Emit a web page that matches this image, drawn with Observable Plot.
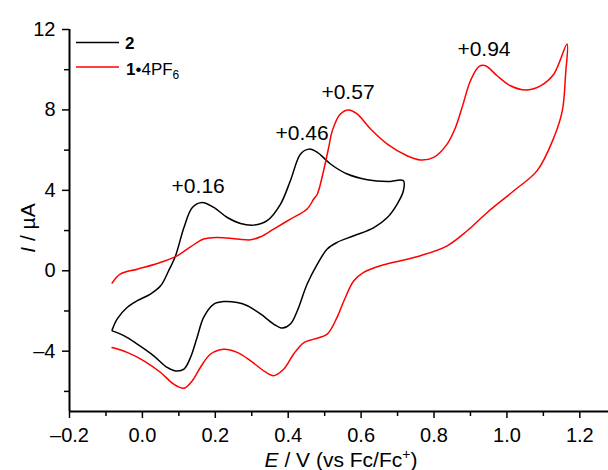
<!DOCTYPE html>
<html><head><meta charset="utf-8">
<script src="https://cdn.jsdelivr.net/npm/d3@7"></script>
<script src="https://cdn.jsdelivr.net/npm/@observablehq/plot@0.6"></script>
<style>body{margin:0;background:#fff;} svg{display:block;}</style>
</head><body><div id="chart"></div>
<script>
// Compound 2 (black)
const E2 = [-0.083,-0.069,-0.042,-0.014,0.022,0.050,0.072,0.091,0.114,0.137,0.164,0.196,0.233,0.269,0.306,0.342,0.379,0.406,0.434,0.457,0.480,0.516,0.562,0.617,0.672,0.716,
  0.716,0.699,0.672,0.635,0.580,0.534,0.507,0.480,0.452,0.425,0.406,0.384,0.360,0.324,0.288,0.260,0.223,0.196,0.168,0.150,0.132,0.114,0.091,0.068,0.031,-0.014,-0.051,-0.083];
const I2 = [-2.94,-2.39,-1.83,-1.49,-1.16,-0.75,0.00,0.75,2.15,3.15,3.40,3.15,2.65,2.35,2.27,2.49,3.32,4.48,5.81,6.05,5.89,5.31,4.81,4.53,4.44,4.48,
  3.98,3.32,2.65,2.15,1.74,1.41,1.08,0.33,-0.66,-1.99,-2.65,-2.85,-2.65,-2.15,-1.74,-1.58,-1.53,-1.66,-2.32,-3.32,-4.31,-4.89,-4.98,-4.81,-4.23,-3.65,-3.23,-2.99];
// Compound 1•4PF6 (red)
const E1 = [-0.083,-0.060,-0.014,0.041,0.091,0.132,0.168,0.205,0.260,0.297,0.324,0.360,0.406,0.452,0.470,0.480,0.498,0.511,0.521,0.543,0.566,0.589,0.626,0.672,0.726,0.763,0.799,0.836,0.859,0.877,0.900,0.923,0.941,0.973,1.010,1.051,1.092,1.129,1.165,
  1.161,1.152,1.129,1.083,1.019,0.946,0.891,0.836,0.763,0.708,0.653,0.607,0.580,0.553,0.534,0.507,0.470,0.443,0.415,0.388,0.360,0.333,0.297,0.260,0.223,0.187,0.159,0.137,0.114,0.086,0.050,0.004,-0.042,-0.083];
const I1 = [-0.61,-0.16,0.08,0.36,0.70,1.19,1.58,1.66,1.58,1.54,1.69,2.07,2.57,3.07,3.57,3.82,5.05,6.13,6.97,7.80,8.00,7.80,7.05,6.30,5.72,5.51,5.64,6.30,7.13,8.12,9.45,10.15,10.20,9.70,9.20,8.99,9.20,9.79,11.28,
  9.79,7.96,6.63,4.98,3.98,2.90,1.99,1.24,0.75,0.50,0.25,-0.08,-0.50,-1.49,-2.32,-3.15,-3.40,-3.57,-4.14,-4.89,-5.22,-4.98,-4.48,-4.06,-3.90,-4.14,-4.81,-5.47,-5.84,-5.64,-5.06,-4.48,-4.06,-3.82];
// Peak labels
const peakText = ["+0.16","+0.46","+0.57","+0.94"];
const peakE = [0.153,0.438,0.564,0.937];
const peakI = [4.20,6.82,8.87,11.0];
// Ticks
const xMajor = [-0.2,0,0.2,0.4,0.6,0.8,1.0,1.2];
const xMinor = [-0.1,0.1,0.3,0.5,0.7,0.9,1.1];
const yMajor = [-4,0,4,8,12];
const yMinor = [-6,-2,2,6,10];

const black = E2.map((e,i)=>({E:e, I:I2[i]}));
const red = E1.map((e,i)=>({E:e, I:I1[i]}));
const peaks = peakText.map((t,i)=>({t, E:peakE[i], I:peakI[i]}));
const dash = s => s.replace(/[-\u2212]/g, "\u2013");

const font = "'Liberation Sans', Arial, sans-serif";
const chart = Plot.plot({
  width: 608, height: 470,
  marginLeft: 69, marginRight: 0, marginTop: 29, marginBottom: 59,
  x: {domain: [-0.2, 1.2787]},
  y: {domain: [-7, 12]},
  style: {fontFamily: font, fontSize: "20px", color: "black", background: "white"},
  marks: [
    Plot.axisY(yMajor, {tickSize: 7, tickPadding: 7, strokeWidth: 1.5, label: null, fontSize: 20, tickFormat: d => dash(String(d))}),
    Plot.axisY(yMinor, {tickSize: 5, strokeWidth: 1.5, text: null, label: null}),
    Plot.axisX(xMajor, {tickSize: 7, tickPadding: 9, strokeWidth: 1.5, label: null, fontSize: 20, tickFormat: d => dash(d3.format(".1f")(d))}),
    Plot.axisX(xMinor, {tickSize: 5, strokeWidth: 1.5, text: null, label: null}),
    Plot.ruleX([-0.2], {strokeWidth: 2}),
    Plot.ruleY([-7], {strokeWidth: 2}),
    Plot.line(black, {x: "E", y: "I", stroke: "black", strokeWidth: 1.5, curve: "catmull-rom"}),
    Plot.line(red, {x: "E", y: "I", stroke: "#ff0000", strokeWidth: 1.5, curve: "catmull-rom"}),
    Plot.text(peaks, {x: "E", y: "I", text: "t", fontSize: 21, fill: "black", lineAnchor: "middle"})
  ]
});
document.getElementById("chart").appendChild(chart);

const svg = d3.select(chart);
// Legend
const lg = svg.append("g").attr("font-family", font).attr("font-size", 17).attr("text-anchor", "start");
lg.append("line").attr("x1", 76).attr("x2", 119).attr("y1", 42.5).attr("y2", 42.5).attr("stroke", "black").attr("stroke-width", 1.5);
lg.append("text").attr("x", 125).attr("y", 48.5).attr("font-weight", "bold").text("2");
lg.append("line").attr("x1", 76).attr("x2", 119).attr("y1", 67).attr("y2", 67).attr("stroke", "#ff0000").attr("stroke-width", 1.5);
const t2 = lg.append("text").attr("x", 126).attr("y", 75);
t2.append("tspan").attr("font-weight", "bold").text("1");
t2.append("tspan").text("\u20224PF");
t2.append("tspan").attr("font-size", 12).attr("dy", 4).text("6");
// Axis titles
const xl = svg.append("text").attr("x", 341).attr("y", 466.5).attr("text-anchor", "middle")
  .attr("font-family", font).attr("font-size", 21);
xl.append("tspan").attr("font-style", "italic").text("E");
xl.append("tspan").text(" / V (vs Fc/Fc");
xl.append("tspan").attr("font-size", 14).attr("dy", -8).text("+");
xl.append("tspan").attr("dy", 8).text(")");
const yl = svg.append("text").attr("transform", "translate(35,228) rotate(-90)").attr("text-anchor", "middle")
  .attr("font-family", font).attr("font-size", 21);
yl.append("tspan").attr("font-style", "italic").text("I");
yl.append("tspan").text(" / \u00b5A");
</script></body></html>
